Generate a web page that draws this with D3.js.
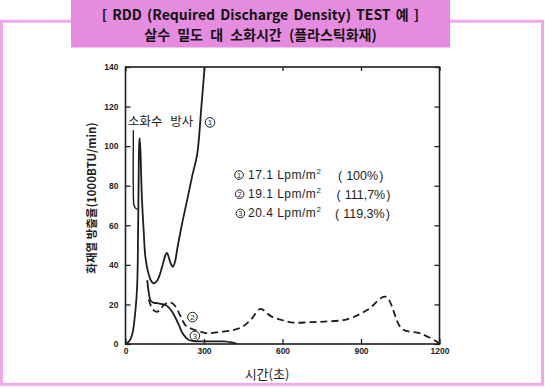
<!DOCTYPE html>
<html>
<head>
<meta charset="utf-8">
<script src="https://cdn.jsdelivr.net/npm/d3@7"></script>
<style>
  body { margin: 0; background: #fff; }
  svg { display: block; }
</style>
</head>
<body>
<script>
// values (time in s, heat release in 1000 BTU/min)
var curve1 = [[0,0],[15,1.5],[26,5],[38,17],[45,31],[48,56],[50,80],[52,100],[54,104],[57,98],[61,80],
  [64,70],[70,56],[76,44],[89,35],[100,31.5],[108,30.7],[118,31.5],[127,33.5],[140,39],[153,45],[159,46],
  [166,43.5],[172,41],[181,39],[190,42],[197,47.5],[215,60],[236,73],[255,85],[274,96],[290,120],[303,141]];
var curve2 = [[89,22.5],[98,19],[108,17],[121,16.3],[134,17.5],[146,19.7],[166,21],[180,20.5],[191,19],
  [205,15.5],[217,12.1],[232,9],[248,7.9],[280,6.5],[312,5.4],[363,6.2],[414,7.1],[450,9],[478,12.1],
  [516,17.7],[554,14.2],[600,12],[643,10.8],[700,11],[758,11.3],[847,12.5],[924,17.2],[994,23.9],
  [1057,7.6],[1127,5.4],[1200,0.4]];
var curve3 = [[83,32.3],[89,26],[95,22.2],[105,21],[121,20.6],[153,19.7],[165,18.5],[178,16.3],
  [192,13],[204,9.6],[214,6.5],[223,4.5],[242,2],[260,1.5],[280,1.3],[375,1.3],[405,0.8],[427,0]];
var dischargeMark = [[30,108],[30.3,74],[32,70.5],[37,68.8],[47,68]];

var yTicks = [0,20,40,60,80,100,120,140];
var xTicks = [0,300,600,900,1200];
var legendRows = [
  {n: "1", rate: "17.1", pct: "100%"},
  {n: "2", rate: "19.1", pct: "111,7%"},
  {n: "3", rate: "20.4", pct: "119,3%"}
];
var curveTags = [{n: "1", t: 323, v: 112}, {n: "2", t: 256, v: 13.6}, {n: "3", t: 265, v: 4.1}];

var W = 545, H = 387;
var ink = "#1e1e1e";
var svg = d3.select("body").append("svg").attr("width", W).attr("height", H);

// outer frame and title box
svg.append("rect").attr("x", 1.5).attr("y", 21.3).attr("width", 541).attr("height", 363)
  .attr("fill", "#fff").attr("stroke", "#F2A8EE").attr("stroke-width", 3);
svg.append("rect").attr("x", 71).attr("y", 0).attr("width", 379).attr("height", 47.5)
  .attr("fill", "#E68CE0");

var title = svg.append("g").attr("font-family", "'Noto Sans CJK KR', sans-serif")
  .attr("font-weight", "bold").attr("font-size", 14).attr("fill", "#111")
  .attr("text-anchor", "middle");
title.append("text").attr("x", 260.5).attr("y", 20).attr("word-spacing", 2)
  .text("[ RDD (Required Discharge Density) TEST 예 ]");
title.append("text").attr("x", 260.5).attr("y", 40).attr("word-spacing", 4)
  .text("살수 밀도 대 소화시간 (플라스틱화재)");

var x = d3.scaleLinear().domain([0, 1200]).range([125.5, 439.5]);
var y = d3.scaleLinear().domain([0, 140]).range([344, 67]);

// axes
svg.append("g").attr("transform", "translate(" + x(0) + ",0)")
  .call(d3.axisLeft(y).tickValues(yTicks).tickSize(-5).tickPadding(7));
svg.append("g").attr("transform", "translate(" + x(1200) + ",0)")
  .call(d3.axisRight(y).tickValues(yTicks).tickSize(-5).tickFormat(""));
svg.append("g").attr("transform", "translate(0," + y(0) + ")")
  .call(d3.axisBottom(x).tickValues(xTicks).tickSize(-5).tickPadding(4).tickFormat(d3.format("d")));
svg.append("g").attr("transform", "translate(0," + y(140) + ")")
  .call(d3.axisTop(x).tickValues(xTicks).tickSize(-4).tickFormat(""));

svg.selectAll(".domain").remove();
svg.selectAll(".tick line").attr("stroke", ink).attr("stroke-width", 1.3);
svg.selectAll(".tick text").attr("font-family", "'Liberation Sans', Arial, sans-serif")
  .attr("font-weight", "bold").attr("font-size", 8.5).attr("fill", ink);

svg.append("rect").attr("x", x(0)).attr("y", y(140))
  .attr("width", x(1200) - x(0)).attr("height", y(0) - y(140))
  .attr("fill", "none").attr("stroke", ink).attr("stroke-width", 1.6);

// curves
var line = d3.line().x(function(d) { return x(d[0]); }).y(function(d) { return y(d[1]); })
  .curve(d3.curveCatmullRom.alpha(0.5));
svg.append("clipPath").attr("id", "plotclip").append("rect")
  .attr("x", x(0)).attr("y", y(140)).attr("width", x(1200) - x(0)).attr("height", y(0) - y(140));
var plot = svg.append("g").attr("clip-path", "url(#plotclip)")
  .attr("fill", "none").attr("stroke", ink).attr("stroke-width", 1.8);
plot.append("path").attr("d", line(curve1));
plot.append("path").attr("d", line(curve3));
plot.append("path").attr("d", line(curve2)).attr("stroke-dasharray", "7,4");
plot.append("path").attr("d", line(dischargeMark)).attr("stroke-width", 1.4);

function circledNumber(g, cx, cy, n, r) {
  g.append("circle").attr("cx", cx).attr("cy", cy).attr("r", r)
    .attr("fill", "#fff").attr("stroke", ink).attr("stroke-width", 1);
  g.append("text").attr("x", cx).attr("y", cy + r * 0.62).attr("text-anchor", "middle")
    .attr("font-family", "'Liberation Sans', Arial, sans-serif").attr("font-size", r * 1.65)
    .attr("fill", ink).text(n);
}

var tags = svg.append("g");
curveTags.forEach(function(d) { circledNumber(tags, x(d.t), y(d.v), d.n, 4.8); });

// annotation
svg.append("text").attr("x", 128).attr("y", 126)
  .attr("font-family", "'Noto Sans CJK KR', sans-serif").attr("font-size", 12.5)
  .attr("word-spacing", 5).attr("fill", ink).text("소화수 방사");

// legend
var legend = svg.append("g").attr("font-family", "'Liberation Sans', Arial, sans-serif")
  .attr("fill", ink);
legendRows.forEach(function(d, i) {
  var by = 179 + i * 19.2;
  circledNumber(legend, 239 + i * 0.7, by - 4, d.n, 4.3);
  var t = legend.append("text").attr("x", 248).attr("y", by).attr("font-size", 12)
    .attr("letter-spacing", 0.5);
  t.append("tspan").text(d.rate + " Lpm/m");
  t.append("tspan").attr("font-size", 8).attr("dy", -5).text("2");
  var p = legend.append("text").attr("x", 338 - i * 1.5).attr("y", by + 0.5)
    .attr("font-size", 12.5).attr("font-weight", 300);
  p.append("tspan").text("(");
  p.append("tspan").attr("dx", 4).text(d.pct);
  p.append("tspan").attr("dx", 1).text(")");
});

// axis titles
svg.append("text").attr("transform", "translate(96,198) rotate(-90)")
  .attr("text-anchor", "middle").attr("font-family", "'Noto Sans CJK KR', sans-serif")
  .attr("font-size", 11.5).attr("font-weight", "bold").attr("fill", ink)
  .text("화재열 방출율(1000BTU/min)");
svg.append("text").attr("x", 267).attr("y", 379).attr("text-anchor", "middle")
  .attr("font-family", "'Noto Sans CJK KR', sans-serif").attr("font-size", 13)
  .attr("fill", ink).text("시간(초)");
</script>
</body>
</html>
